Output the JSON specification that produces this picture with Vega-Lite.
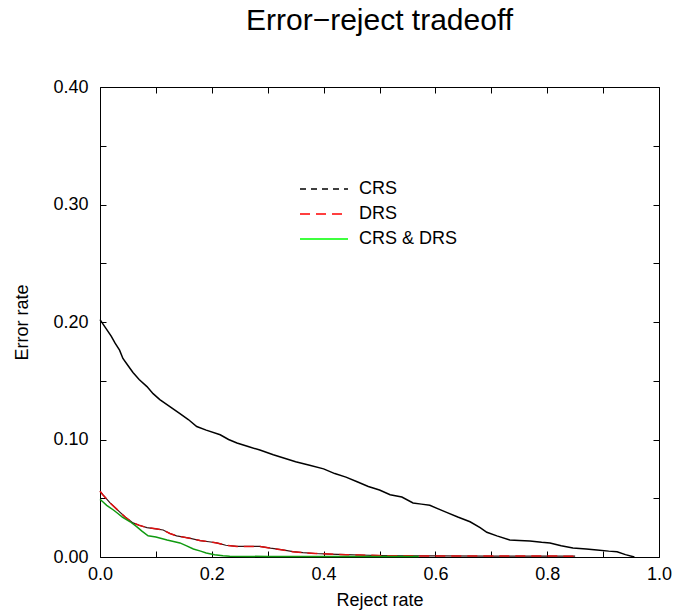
{
  "$schema": "https://vega.github.io/schema/vega-lite/v6.json",
  "width": 559,
  "height": 470,
  "autosize": {"type": "none"},
  "padding": {"left": 100, "top": 87, "right": 18, "bottom": 55},
  "background": "white",
  "title": {"text": "Error−reject tradeoff", "fontSize": 30, "font": "Liberation Sans", "fontWeight": "normal", "anchor": "middle", "baseline": "alphabetic", "offset": 18, "color": "black"},
  "config": {
    "font": "Liberation Sans",
    "view": {"stroke": "black", "strokeWidth": 1},
    "axis": {"grid": false, "domain": false, "tickColor": "black", "tickSize": -6, "tickWidth": 1, "labelColor": "black", "labelFontSize": 18, "labelFont": "Liberation Sans", "titleFont": "Liberation Sans", "titleFontSize": 18, "titleFontWeight": "normal", "titleColor": "black", "labelOverlap": false, "labelFlush": false},
    "legend": {"labelFont": "Liberation Sans", "labelFontSize": 18, "labelColor": "black"}
  },
  "data": {"values": [
    {"r": 0, "e": 0.202, "s": "CRS"}, {"r": 0.01, "e": 0.195, "s": "CRS"}, {"r": 0.02, "e": 0.188, "s": "CRS"}, {"r": 0.027, "e": 0.182, "s": "CRS"}, {"r": 0.035, "e": 0.176, "s": "CRS"}, {"r": 0.041, "e": 0.169, "s": "CRS"}, {"r": 0.05, "e": 0.163, "s": "CRS"}, {"r": 0.059, "e": 0.157, "s": "CRS"}, {"r": 0.07, "e": 0.151, "s": "CRS"}, {"r": 0.084, "e": 0.145, "s": "CRS"}, {"r": 0.095, "e": 0.139, "s": "CRS"}, {"r": 0.107, "e": 0.134, "s": "CRS"}, {"r": 0.125, "e": 0.128, "s": "CRS"}, {"r": 0.143, "e": 0.122, "s": "CRS"}, {"r": 0.158, "e": 0.117, "s": "CRS"}, {"r": 0.173, "e": 0.111, "s": "CRS"}, {"r": 0.19, "e": 0.108, "s": "CRS"}, {"r": 0.215, "e": 0.104, "s": "CRS"}, {"r": 0.23, "e": 0.1, "s": "CRS"}, {"r": 0.245, "e": 0.097, "s": "CRS"}, {"r": 0.265, "e": 0.094, "s": "CRS"}, {"r": 0.286, "e": 0.091, "s": "CRS"}, {"r": 0.31, "e": 0.087, "s": "CRS"}, {"r": 0.33, "e": 0.084, "s": "CRS"}, {"r": 0.35, "e": 0.081, "s": "CRS"}, {"r": 0.375, "e": 0.078, "s": "CRS"}, {"r": 0.4, "e": 0.075, "s": "CRS"}, {"r": 0.42, "e": 0.071, "s": "CRS"}, {"r": 0.44, "e": 0.068, "s": "CRS"}, {"r": 0.46, "e": 0.064, "s": "CRS"}, {"r": 0.48, "e": 0.06, "s": "CRS"}, {"r": 0.5, "e": 0.057, "s": "CRS"}, {"r": 0.519, "e": 0.053, "s": "CRS"}, {"r": 0.54, "e": 0.051, "s": "CRS"}, {"r": 0.56, "e": 0.046, "s": "CRS"}, {"r": 0.575, "e": 0.045, "s": "CRS"}, {"r": 0.59, "e": 0.044, "s": "CRS"}, {"r": 0.605, "e": 0.041, "s": "CRS"}, {"r": 0.62, "e": 0.038, "s": "CRS"}, {"r": 0.64, "e": 0.034, "s": "CRS"}, {"r": 0.662, "e": 0.03, "s": "CRS"}, {"r": 0.68, "e": 0.025, "s": "CRS"}, {"r": 0.692, "e": 0.021, "s": "CRS"}, {"r": 0.71, "e": 0.018, "s": "CRS"}, {"r": 0.733, "e": 0.0145, "s": "CRS"}, {"r": 0.75, "e": 0.014, "s": "CRS"}, {"r": 0.769, "e": 0.0136, "s": "CRS"}, {"r": 0.79, "e": 0.0125, "s": "CRS"}, {"r": 0.805, "e": 0.012, "s": "CRS"}, {"r": 0.825, "e": 0.0095, "s": "CRS"}, {"r": 0.846, "e": 0.0077, "s": "CRS"}, {"r": 0.87, "e": 0.0068, "s": "CRS"}, {"r": 0.889, "e": 0.006, "s": "CRS"}, {"r": 0.91, "e": 0.005, "s": "CRS"}, {"r": 0.925, "e": 0.0045, "s": "CRS"}, {"r": 0.94, "e": 0.002, "s": "CRS"}, {"r": 0.956, "e": 0, "s": "CRS"},
    {"r": 0, "e": 0.056, "s": "DRS"}, {"r": 0.005, "e": 0.053, "s": "DRS"}, {"r": 0.018, "e": 0.046, "s": "DRS"}, {"r": 0.027, "e": 0.042, "s": "DRS"}, {"r": 0.036, "e": 0.038, "s": "DRS"}, {"r": 0.045, "e": 0.034, "s": "DRS"}, {"r": 0.059, "e": 0.029, "s": "DRS"}, {"r": 0.07, "e": 0.027, "s": "DRS"}, {"r": 0.084, "e": 0.025, "s": "DRS"}, {"r": 0.1, "e": 0.024, "s": "DRS"}, {"r": 0.113, "e": 0.023, "s": "DRS"}, {"r": 0.125, "e": 0.02, "s": "DRS"}, {"r": 0.137, "e": 0.018, "s": "DRS"}, {"r": 0.16, "e": 0.016, "s": "DRS"}, {"r": 0.179, "e": 0.014, "s": "DRS"}, {"r": 0.195, "e": 0.013, "s": "DRS"}, {"r": 0.209, "e": 0.012, "s": "DRS"}, {"r": 0.225, "e": 0.01, "s": "DRS"}, {"r": 0.245, "e": 0.009, "s": "DRS"}, {"r": 0.286, "e": 0.009, "s": "DRS"}, {"r": 0.305, "e": 0.0075, "s": "DRS"}, {"r": 0.327, "e": 0.006, "s": "DRS"}, {"r": 0.345, "e": 0.0045, "s": "DRS"}, {"r": 0.363, "e": 0.0037, "s": "DRS"}, {"r": 0.385, "e": 0.003, "s": "DRS"}, {"r": 0.41, "e": 0.0025, "s": "DRS"}, {"r": 0.44, "e": 0.002, "s": "DRS"}, {"r": 0.465, "e": 0.0017, "s": "DRS"}, {"r": 0.5, "e": 0.0012, "s": "DRS"}, {"r": 0.55, "e": 0.001, "s": "DRS"}, {"r": 0.6, "e": 0.0009, "s": "DRS"}, {"r": 0.7, "e": 0.0008, "s": "DRS"}, {"r": 0.8, "e": 0.0008, "s": "DRS"}, {"r": 0.85, "e": 0.0007, "s": "DRS"},
    {"r": 0, "e": 0.049, "s": "CRS & DRS"}, {"r": 0.005, "e": 0.047, "s": "CRS & DRS"}, {"r": 0.012, "e": 0.044, "s": "CRS & DRS"}, {"r": 0.024, "e": 0.04, "s": "CRS & DRS"}, {"r": 0.032, "e": 0.037, "s": "CRS & DRS"}, {"r": 0.04, "e": 0.034, "s": "CRS & DRS"}, {"r": 0.054, "e": 0.03, "s": "CRS & DRS"}, {"r": 0.065, "e": 0.026, "s": "CRS & DRS"}, {"r": 0.075, "e": 0.022, "s": "CRS & DRS"}, {"r": 0.086, "e": 0.018, "s": "CRS & DRS"}, {"r": 0.1, "e": 0.017, "s": "CRS & DRS"}, {"r": 0.12, "e": 0.0145, "s": "CRS & DRS"}, {"r": 0.143, "e": 0.012, "s": "CRS & DRS"}, {"r": 0.155, "e": 0.0095, "s": "CRS & DRS"}, {"r": 0.167, "e": 0.0068, "s": "CRS & DRS"}, {"r": 0.18, "e": 0.005, "s": "CRS & DRS"}, {"r": 0.19, "e": 0.0034, "s": "CRS & DRS"}, {"r": 0.205, "e": 0.002, "s": "CRS & DRS"}, {"r": 0.22, "e": 0.001, "s": "CRS & DRS"}, {"r": 0.232, "e": 0.0006, "s": "CRS & DRS"}, {"r": 0.3, "e": 0.0005, "s": "CRS & DRS"}, {"r": 0.4, "e": 0.0005, "s": "CRS & DRS"}, {"r": 0.5, "e": 0.0005, "s": "CRS & DRS"}, {"r": 0.57, "e": 0.0005, "s": "CRS & DRS"}
  ]},
  "resolve": {"axis": {"x": "independent", "y": "independent"}},
  "layer": [
    {
      "transform": [{"filter": "datum.s === 'CRS'"}],
      "mark": {"type": "line", "color": "black", "strokeWidth": 1.5},
      "encoding": {
        "x": {"field": "r", "type": "quantitative", "scale": {"domain": [0, 1], "nice": false, "zero": false},
          "axis": {"orient": "bottom", "title": "Reject rate", "values": [0, 0.1, 0.2, 0.3, 0.4, 0.5, 0.6, 0.7, 0.8, 0.9, 1], "labelExpr": "round(datum.value*10) % 2 == 0 ? format(datum.value, '.1f') : ''", "labelPadding": 14, "titlePadding": 8}},
        "y": {"field": "e", "type": "quantitative", "scale": {"domain": [0, 0.4], "nice": false, "zero": false},
          "axis": {"orient": "left", "title": "Error rate", "values": [0, 0.05, 0.1, 0.15, 0.2, 0.25, 0.3, 0.35, 0.4], "labelExpr": "round(datum.value*100) % 10 == 0 ? format(datum.value, '.2f') : ''", "labelPadding": 18, "titlePadding": 21}}
      }
    },
    {
      "transform": [{"filter": "datum.s === 'DRS'"}],
      "mark": {"type": "line", "color": "#3a1010", "strokeWidth": 1.2},
      "encoding": {
        "x": {"field": "r", "type": "quantitative",
          "axis": {"orient": "top", "title": null, "labels": false, "values": [0, 0.1, 0.2, 0.3, 0.4, 0.5, 0.6, 0.7, 0.8, 0.9, 1]}},
        "y": {"field": "e", "type": "quantitative",
          "axis": {"orient": "right", "title": null, "labels": false, "values": [0, 0.05, 0.1, 0.15, 0.2, 0.25, 0.3, 0.35, 0.4]}}
      }
    },
    {
      "transform": [{"filter": "datum.s === 'DRS'"}],
      "mark": {"type": "line", "color": "#e01010", "strokeWidth": 1.5, "strokeDash": [10, 6]},
      "encoding": {
        "x": {"field": "r", "type": "quantitative", "axis": null},
        "y": {"field": "e", "type": "quantitative", "axis": null}
      }
    },
    {
      "transform": [{"filter": "datum.s === 'CRS & DRS'"}],
      "mark": {"type": "line", "color": "#109a10", "strokeWidth": 1.5},
      "encoding": {
        "x": {"field": "r", "type": "quantitative", "axis": null},
        "y": {"field": "e", "type": "quantitative", "axis": null}
      }
    },
    {
      "transform": [{"filter": "datum.s === 'none'"}],
      "mark": {"type": "line", "strokeWidth": 1.5},
      "encoding": {
        "x": {"field": "r", "type": "quantitative", "axis": null},
        "y": {"field": "e", "type": "quantitative", "axis": null},
        "color": {"field": "s", "type": "nominal", "scale": {"domain": ["CRS", "DRS", "CRS & DRS"], "range": ["#000000", "#ff0000", "#00ff00"]},
          "legend": {"title": null, "orient": "none", "legendX": 215, "legendY": 93, "symbolType": "M-4,0H4", "symbolSize": 144, "symbolStrokeWidth": 1.5, "labelOffset": 26, "rowPadding": 7}},
        "strokeDash": {"field": "s", "type": "nominal", "scale": {"domain": ["CRS", "DRS", "CRS & DRS"], "range": [[6, 5], [10, 6], [1, 0]]},
          "legend": {"title": null, "orient": "none", "legendX": 215, "legendY": 93, "symbolType": "M-4,0H4", "symbolSize": 144, "symbolStrokeWidth": 1.5, "labelOffset": 26, "rowPadding": 7}}
      }
    }
  ]
}
